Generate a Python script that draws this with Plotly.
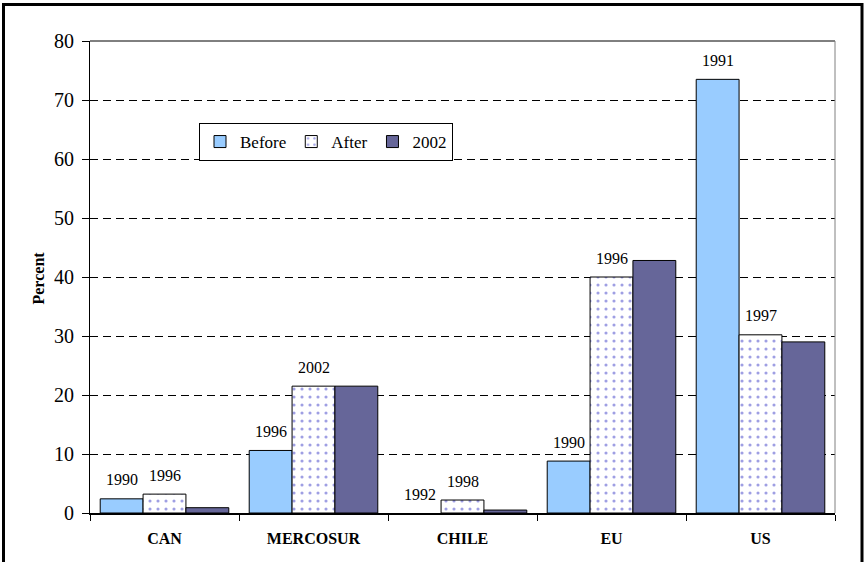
import plotly.graph_objects as go

# Share of trade, before and after each agreement, and in 2002
categories = ["CAN", "MERCOSUR", "CHILE", "EU", "US"]
before = [2.4, 10.6, 0.0, 8.8, 73.5]
after = [3.2, 21.5, 2.2, 40.0, 30.2]
year_2002 = [0.9, 21.5, 0.5, 42.8, 29.0]
before_years = ["1990", "1996", "1992", "1990", "1991"]
after_years = ["1996", "2002", "1998", "1996", "1997"]
y_ticks = [0, 10, 20, 30, 40, 50, 60, 70, 80]

SERIF = "Liberation Serif"
W, H = 865, 562
M_L, M_R, M_T, M_B = 90, 30, 41, 49
BARGAP = 0.137

fig = go.Figure()

def outline(values):
    # no outline on empty bars
    return dict(color="black", width=[1 if v > 0 else 0 for v in values])

fig.add_bar(x=categories, y=before, name="Before",
            marker=dict(color="#99CCFF", line=outline(before)))
fig.add_bar(x=categories, y=after, name="After",
            marker=dict(color="white", line=outline(after),
                        pattern=dict(shape=".", fgcolor="#4040C8", bgcolor="white",
                                     size=8, solidity=0.12)))
fig.add_bar(x=categories, y=year_2002, name="2002",
            marker=dict(color="#666699", line=outline(year_2002)))

# year labels above the Before and After bars
plot_w = W - M_L - M_R
bar_px = plot_w / len(categories) * (1 - BARGAP) / 3
label_font = dict(family=SERIF, size=16, color="black")
for cat, yb, ya, lb, la in zip(categories, before, after, before_years, after_years):
    fig.add_annotation(x=cat, y=yb, text=lb, showarrow=False, xshift=-bar_px,
                       yshift=19, yanchor="middle", font=label_font)
    fig.add_annotation(x=cat, y=ya, text=la, showarrow=False, xshift=0,
                       yshift=19, yanchor="middle", font=label_font)

plot_h = H - M_T - M_B
def px_x(p):
    return (p - M_L) / plot_w
def px_y(p):
    return (H - M_B - p) / plot_h

# y axis title
fig.add_annotation(xref="paper", yref="paper", x=px_x(27), y=px_y(278),
                   text="<b>Percent</b>", textangle=-90, showarrow=False,
                   font=dict(family=SERIF, size=16, color="black"))

shapes = [
    # outer chart frame
    dict(type="rect", xref="paper", yref="paper", x0=px_x(3.5), x1=px_x(862),
         y0=px_y(580), y1=px_y(4.5), line=dict(color="black", width=3),
         layer="below"),
    # plot area border: top and right
    dict(type="line", xref="paper", yref="paper", x0=0, x1=1, y0=1, y1=1,
         line=dict(color="black", width=1)),
    dict(type="line", xref="paper", yref="paper", x0=1, x1=1, y0=0, y1=1,
         line=dict(color="#808080", width=1)),
]

fig.update_layout(
    width=W, height=H, autosize=False,
    margin=dict(l=M_L, r=M_R, t=M_T, b=M_B, pad=0),
    paper_bgcolor="white", plot_bgcolor="white",
    barmode="group", bargap=BARGAP, bargroupgap=0,
    font=dict(family=SERIF, color="black"),
    shapes=shapes,
    showlegend=True,
    legend=dict(orientation="h", x=px_x(199), y=px_y(123), xanchor="left",
                yanchor="top", bgcolor="white", bordercolor="black",
                borderwidth=1, font=dict(family=SERIF, size=17, color="black"),
                itemwidth=30, tracegroupgap=0),
    xaxis=dict(type="category", showline=True, linecolor="black", linewidth=2,
               ticks="outside", tickson="boundaries", ticklen=6,
               tickcolor="black", tickwidth=1, ticklabelstandoff=10,
               tickfont=dict(family=SERIF, size=16, color="black"),
               showgrid=False, zeroline=False, fixedrange=True),
    yaxis=dict(range=[0, 80], tickvals=y_ticks, showline=True, linecolor="black",
               linewidth=1, ticks="outside", ticklen=7, tickcolor="black",
               ticklabelstandoff=4,
               tickfont=dict(family=SERIF, size=20, color="black"),
               showgrid=True, gridcolor="black", gridwidth=1, griddash="8px,5px",
               zeroline=False, fixedrange=True),
    yaxis2=dict(range=[0, 80], tickvals=y_ticks, overlaying="y", side="left",
                anchor="x", ticks="inside", ticklen=7, tickcolor="black",
                showticklabels=False, showgrid=False, zeroline=False,
                showline=False, fixedrange=True),
)
tick_text = [f"<b>{c}</b>" for c in categories]
fig.update_xaxes(tickvals=categories, ticktext=tick_text)

fig.write_html("out.html")
